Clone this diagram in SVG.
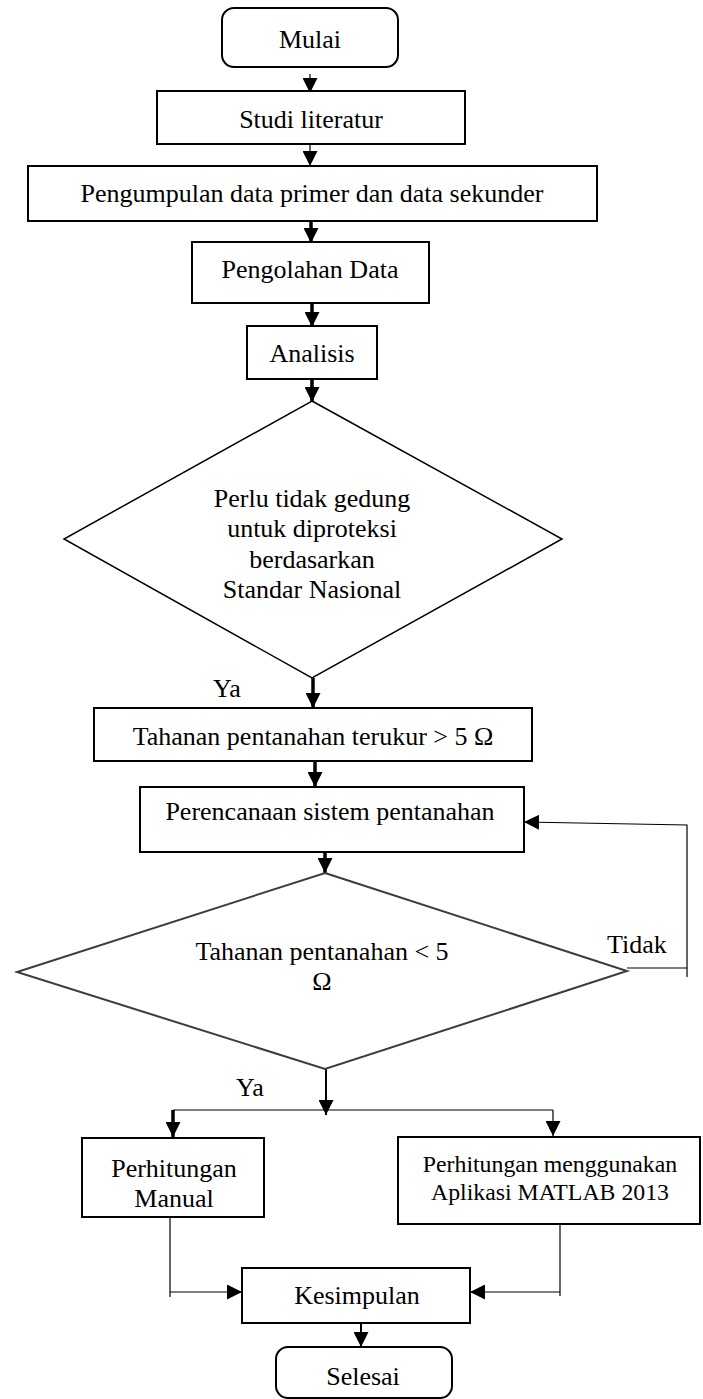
<svg xmlns="http://www.w3.org/2000/svg" width="703" height="1399" viewBox="0 0 703 1399">
<defs>
<style>
.box{fill:#fff;stroke:#000;stroke-width:2}
.dia1{fill:#fff;stroke:#000;stroke-width:1.5}
.dia2{fill:#fff;stroke:#3c3c3c;stroke-width:2}
text{font-family:"Liberation Serif","Times New Roman",serif;font-size:26px;fill:#000}
.c{text-anchor:middle}
.sm{font-size:23.8px}
.thin{fill:none;stroke:#000;stroke-width:1.2}
.thick{fill:none;stroke:#000;stroke-width:3.5}
.med{fill:none;stroke:#000;stroke-width:2}
</style>
<marker id="ah" markerWidth="15" markerHeight="15" refX="15" refY="7.5" orient="auto" markerUnits="userSpaceOnUse">
<path d="M0,0 L15,7.5 L0,15 z" fill="#000"/>
</marker>
</defs>
<rect width="703" height="1399" fill="#fff"/>
<g id="connectors">
<path class="thin" d="M310,74 L310,93" marker-end="url(#ah)"/>
<path class="thin" d="M310,140 L310,166" marker-end="url(#ah)"/>
<path class="thick" d="M311,221 L311,243" marker-end="url(#ah)"/>
<path class="thick" d="M312,303 L312,327" marker-end="url(#ah)"/>
<path class="thick" d="M312,379 L312,402" marker-end="url(#ah)"/>
<path class="thick" d="M313,678 L313,708" marker-end="url(#ah)"/>
<path class="thick" d="M315,761 L315,787" marker-end="url(#ah)"/>
<path class="thick" d="M325,852 L325,873" marker-end="url(#ah)"/>
<path class="thin" d="M627,968 L687,968"/>
<path class="thin" d="M687,977 L687,825 L524,822" marker-end="url(#ah)"/>
<path class="med" d="M326,1068 L326,1115" marker-end="url(#ah)"/>
<path class="thin" d="M173,1110 L553,1110"/>
<path class="thick" d="M173,1110 L173,1137" marker-end="url(#ah)"/>
<path class="thin" d="M553,1110 L553,1136" marker-end="url(#ah)"/>
<path class="thin" d="M170,1212 L170,1297"/>
<path class="thin" d="M170,1292 L242,1292" marker-end="url(#ah)"/>
<path class="thin" d="M560,1221 L560,1296"/>
<path class="thin" d="M560,1292 L470,1292" marker-end="url(#ah)"/>
<path class="med" d="M361,1318 L361,1347" marker-end="url(#ah)"/>
</g>
<g id="mulai">
<rect class="box" x="222" y="8" width="176" height="59" rx="12"/>
<text class="c" x="310" y="48">Mulai</text>
</g>
<g id="studi">
<rect class="box" x="157" y="91" width="308" height="53"/>
<text class="c" x="311" y="128">Studi literatur</text>
</g>
<g id="pengumpulan">
<rect class="box" x="28" y="166" width="569" height="55"/>
<text class="c" x="312" y="202">Pengumpulan data primer dan data sekunder</text>
</g>
<g id="pengolahan">
<rect class="box" x="192" y="242" width="237" height="61"/>
<text class="c" x="310" y="278">Pengolahan Data</text>
</g>
<g id="analisis">
<rect class="box" x="247" y="326" width="130" height="53"/>
<text class="c" x="312" y="362">Analisis</text>
</g>
<g id="decision1">
<polygon class="dia1" points="312,401 562,539 312,678 64,539"/>
<text class="c" x="312" y="507">Perlu tidak gedung</text>
<text class="c" x="312" y="537">untuk diproteksi</text>
<text class="c" x="312" y="568">berdasarkan</text>
<text class="c" x="312" y="598">Standar Nasional</text>
</g>
<text id="ya1" x="213" y="697">Ya</text>
<g id="tahanan">
<rect class="box" x="94" y="708" width="438" height="53"/>
<text class="c" x="313" y="745">Tahanan pentanahan terukur &gt; 5 Ω</text>
</g>
<g id="perencanaan">
<rect class="box" x="140" y="787" width="384" height="65"/>
<text class="c" x="330" y="820">Perencanaan sistem pentanahan</text>
</g>
<g id="decision2">
<polygon class="dia2" points="325,873 627,971 325,1069 17,972"/>
<text class="c" x="322" y="960">Tahanan pentanahan &lt; 5</text>
<text class="c" x="322" y="990">Ω</text>
</g>
<text id="tidak" x="607" y="953">Tidak</text>
<text id="ya2" x="236" y="1096">Ya</text>
<g id="manual">
<rect class="box" x="82" y="1138" width="182" height="79"/>
<text class="c" x="174" y="1177">Perhitungan</text>
<text class="c" x="174" y="1207">Manual</text>
</g>
<g id="matlab">
<rect class="box" x="398" y="1137" width="302" height="87"/>
<text class="c sm" x="550" y="1172">Perhitungan menggunakan</text>
<text class="c sm" x="550" y="1200">Aplikasi MATLAB 2013</text>
</g>
<g id="kesimpulan">
<rect class="box" x="242" y="1268" width="228" height="55"/>
<text class="c" x="357" y="1304">Kesimpulan</text>
</g>
<g id="selesai">
<rect class="box" x="276" y="1347" width="176" height="51" rx="12"/>
<text class="c" x="363" y="1385">Selesai</text>
</g>
</svg>
